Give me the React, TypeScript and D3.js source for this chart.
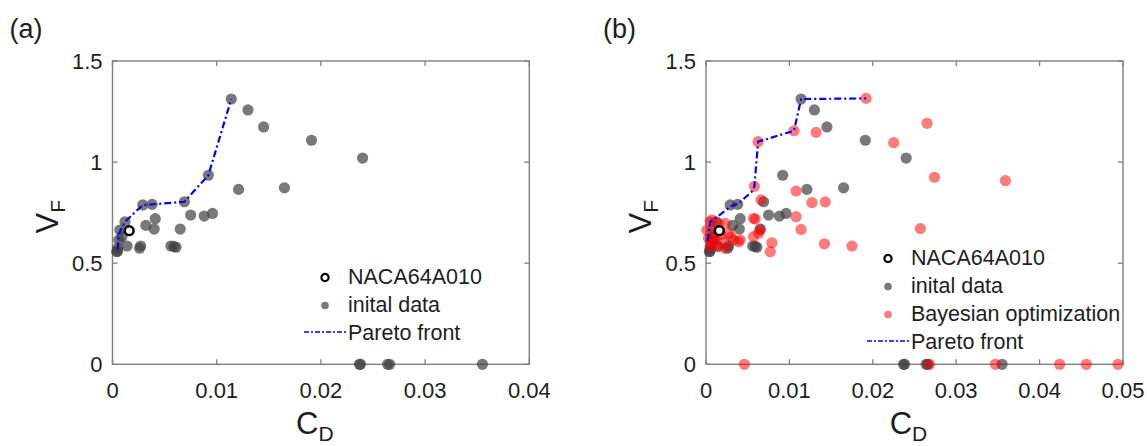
import * as d3 from 'd3';
import React from 'react';

// initial data (gray) – C_D, V_F
const initCd = [
  0.0114, 0.013, 0.0145, 0.0191, 0.024, 0.0092, 0.0121, 0.0165, 0.0088, 0.0096,
  0.0069, 0.0029, 0.0038, 0.0075, 0.0041, 0.0032, 0.004, 0.0065, 0.0007, 0.0009,
  0.0006, 0.0005, 0.0004, 0.0014, 0.0026, 0.0027, 0.0056, 0.0061, 0.0059, 0.0012,
  0.0005, 0.0238, 0.0237, 0.0264, 0.0266, 0.0355,
];
const initVf = [
  1.312, 1.258, 1.174, 1.108, 1.02, 0.935, 0.865, 0.873, 0.733, 0.746,
  0.804, 0.788, 0.791, 0.738, 0.72, 0.687, 0.669, 0.669, 0.664, 0.631,
  0.615, 0.574, 0.557, 0.585, 0.574, 0.585, 0.585, 0.579, 0.583, 0.705,
  0.56, 0, 0, 0, 0, 0,
];

// Bayesian optimization samples (red)
const boCd = [
  0.0192, 0.01055, 0.0132, 0.0265, 0.0225, 0.0274, 0.0108, 0.0127, 0.0143, 0.0108,
  0.0114, 0.0142, 0.0175, 0.0257, 0.0359, 0.00625, 0.0058, 0.0066, 0.0059, 0.0023,
  0.0063, 0.0057, 0.0079, 0.0077, 0.0007, 0.0001, 0.0015, 0.0027, 0.0033, 0.0041,
  0.0009, 0.0021, 0.0005, 0.0015, 0.0023, 0.0011, 0.0057, 0.0065, 0.0039, 0.0003,
  0.0005, 0.0018, 0.0012, 0.003, 0.0008,
  0.0046, 0.0268, 0.0347, 0.0424, 0.0456, 0.0494,
];
const boVf = [
  1.315, 1.155, 1.147, 1.192, 1.096, 0.925, 0.857, 0.8, 0.803, 0.73,
  0.667, 0.596, 0.585, 0.671, 0.908, 1.101, 0.88, 0.813, 0.718, 0.697,
  0.648, 0.631, 0.601, 0.557, 0.714, 0.664, 0.697, 0.648, 0.615, 0.615,
  0.615, 0.606, 0.582, 0.582, 0.574, 0.623, 0.722, 0.664, 0.606, 0.623,
  0.705, 0.64, 0.655, 0.63, 0.595,
  0, 0, 0, 0, 0, 0,
];

const nacaCd = 0.0016;
const nacaVf = 0.661;

const paretoA = [
  [0.0005, 0.569], [0.0006, 0.645], [0.0012, 0.705], [0.0029, 0.788], [0.0038, 0.791],
  [0.0069, 0.804], [0.0092, 0.935], [0.0114, 1.312],
];
const paretoB = [
  [0.0002, 0.61], [0.0005, 0.705], [0.0011, 0.722], [0.0029, 0.779], [0.0039, 0.796],
  [0.0055, 0.854], [0.0058, 0.88], [0.00625, 1.101], [0.01055, 1.155], [0.0114, 1.312],
  [0.0192, 1.315],
];

const xTicksA = [0, 0.01, 0.02, 0.03, 0.04];
const xTicksB = [0, 0.01, 0.02, 0.03, 0.04, 0.05];
const yTicks = [0, 0.5, 1, 1.5];

const FONT = '"Liberation Sans", Arial, sans-serif';
const GRAY = '#404040';
const AXIS = '#808080';
const TXT = '#1e1e1e';

const Panel = ({ left, right, xMax, xTicks, label, showBO, pareto, legendX, legendY }) => {
  const top = 61;
  const bottom = 364.3;
  const x = d3.scaleLinear([0, xMax], [left, right]);
  const y = d3.scaleLinear([0, 1.5], [bottom, top]);
  const line = d3.line().x((d) => x(d[0])).y((d) => y(d[1]));
  const tick = 5;
  const rows = showBO
    ? ['NACA64A010', 'inital data', 'Bayesian optimization', 'Pareto front']
    : ['NACA64A010', 'inital data', 'Pareto front'];

  return (
    <g fontFamily={FONT}>
      <text x={left - 103} y={38} fontSize={27} fill={TXT}>{label}</text>

      {/* box + inner ticks */}
      <rect x={left} y={top} width={right - left} height={bottom - top} fill="none" stroke={AXIS} strokeWidth={1.4} />
      {xTicks.map((t) => (
        <g key={'x' + t}>
          <line x1={x(t)} x2={x(t)} y1={bottom} y2={bottom - tick} stroke={AXIS} strokeWidth={1.3} />
          <line x1={x(t)} x2={x(t)} y1={top} y2={top + tick} stroke={AXIS} strokeWidth={1.3} />
          <text x={x(t)} y={398} fontSize={22} fill={TXT} textAnchor="middle">{d3.format('~g')(t)}</text>
        </g>
      ))}
      {yTicks.map((t) => (
        <g key={'y' + t}>
          <line x1={left} x2={left + tick} y1={y(t)} y2={y(t)} stroke={AXIS} strokeWidth={1.3} />
          <line x1={right} x2={right - tick} y1={y(t)} y2={y(t)} stroke={AXIS} strokeWidth={1.3} />
          <text x={left - 10} y={y(t)} dy="0.36em" fontSize={22} fill={TXT} textAnchor="end">{d3.format('~g')(t)}</text>
        </g>
      ))}

      {/* axis labels */}
      <text x={(left + right) / 2 - 6} y={434} fontSize={31} fill={TXT} textAnchor="middle">
        C<tspan fontSize={21} dy={7}>D</tspan>
      </text>
      <text transform={`translate(${left - 55},${(top + bottom) / 2 + 4}) rotate(-90)`} fontSize={31} fill={TXT} textAnchor="middle">
        V<tspan fontSize={21} dy={7}>F</tspan>
      </text>

      {/* markers */}
      {initCd.map((c, i) => (
        <circle key={'g' + i} cx={x(c)} cy={y(initVf[i])} r={5.6} fill={GRAY} fillOpacity={0.7} />
      ))}
      {showBO && boCd.map((c, i) => (
        <circle key={'r' + i} cx={x(c)} cy={y(boVf[i])} r={5.6} fill="#ff0000" fillOpacity={0.52} />
      ))}
      <path d={line(pareto)} fill="none" stroke="#0000ff" strokeWidth={2.2} strokeDasharray="7,3,2,3" />
      <circle cx={x(nacaCd)} cy={y(nacaVf)} r={4.4} fill="#fff" stroke="#000" strokeWidth={2.5} />

      {/* legend */}
      {rows.map((r, i) => {
        const by = legendY + i * 28;
        const mx = legendX - 23;
        return (
          <g key={r}>
            {r === 'NACA64A010' && <circle cx={mx} cy={by - 6.5} r={3.6} fill="#fff" stroke="#000" strokeWidth={2.2} />}
            {r === 'inital data' && <circle cx={mx} cy={by - 6.5} r={3.8} fill={GRAY} fillOpacity={0.7} />}
            {r === 'Bayesian optimization' && <circle cx={mx} cy={by - 6.5} r={3.8} fill="#ff0000" fillOpacity={0.52} />}
            {r === 'Pareto front' && (
              <line x1={legendX - 44} x2={legendX - 2} y1={by - 8} y2={by - 8} stroke="#0000ff" strokeWidth={1.7} strokeDasharray="5,2,2,2" />
            )}
            <text x={legendX} y={by} fontSize={21.5} fill={TXT}>{r}</text>
          </g>
        );
      })}
    </g>
  );
};

export default function App() {
  return (
    <svg width={1147} height={446} style={{ display: 'block', position: 'absolute', left: 0, top: 0 }}>
      <rect width={1147} height={446} fill="#fff" />
      <Panel left={112.5} right={529.3} xMax={0.04} xTicks={xTicksA} label="(a)" showBO={false}
        pareto={paretoA} legendX={348} legendY={284} />
      <Panel left={706} right={1123} xMax={0.05} xTicks={xTicksB} label="(b)" showBO={true}
        pareto={paretoB} legendX={911} legendY={265} />
    </svg>
  );
}
